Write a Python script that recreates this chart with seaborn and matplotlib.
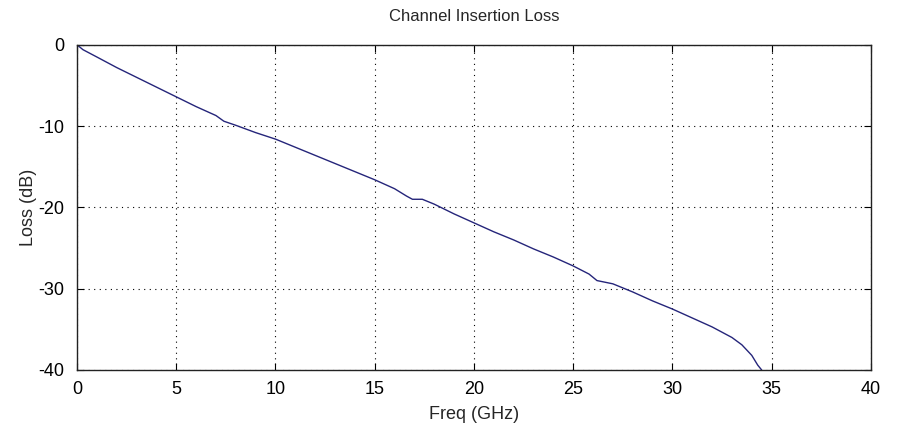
import matplotlib
matplotlib.use("Agg")
import matplotlib.pyplot as plt
import seaborn as sns
import pandas as pd

freq_ghz = [0, 0.3, 1, 2, 3, 4, 5, 6, 7, 7.4, 8, 9, 10, 11, 12, 13, 14, 15, 16,
            16.6, 16.9, 17.4, 18, 19, 20, 21, 22, 23, 24, 25, 25.8, 26.2, 27, 28,
            29, 30, 31, 32, 33, 33.5, 34, 34.3, 34.5]
loss_db = [0, -0.6, -1.5, -2.8, -4.0, -5.2, -6.4, -7.6, -8.7, -9.4, -9.9, -10.8,
           -11.6, -12.6, -13.6, -14.6, -15.6, -16.6, -17.7, -18.6, -19.0, -19.0,
           -19.6, -20.8, -21.9, -23.0, -24.0, -25.1, -26.1, -27.2, -28.2, -29.0,
           -29.4, -30.4, -31.5, -32.5, -33.6, -34.7, -36.0, -36.9, -38.2, -39.4, -40.0]
x_ticks = [0, 5, 10, 15, 20, 25, 30, 35, 40]
y_ticks = [0, -10, -20, -30, -40]

df = pd.DataFrame({"freq": freq_ghz, "loss": loss_db})

sns.set_style("white")
plt.rcParams["font.family"] = ["Liberation Sans", "DejaVu Sans"]
plt.rcParams["axes.unicode_minus"] = False

fig = plt.figure(figsize=(9, 4.33), dpi=100)
ax = fig.add_axes([0.0856, 0.1455, 0.882, 0.751])
sns.lineplot(data=df, x="freq", y="loss", ax=ax, color="#25257a", linewidth=1.0)

ax.set_xlim(0, 40)
ax.set_ylim(-40, 0)
ax.set_xticks(x_ticks)
ax.set_yticks(y_ticks)
ax.tick_params(direction="in", length=5, width=0.8, colors="black",
               labelsize=13, top=True, right=True, bottom=True, left=True)
ax.tick_params(axis="x", pad=8)
ax.tick_params(axis="y", pad=9)
ax.grid(True, linestyle=(0, (1, 4)), color="black", linewidth=0.8)
for s in ax.spines.values():
    s.set_color("#222222")
    s.set_linewidth(1.0)
    s.set_visible(True)

ax.set_title("Channel Insertion Loss", fontsize=12, pad=17)
ax.set_xlabel("Freq (GHz)", fontsize=13, labelpad=6)
ax.set_ylabel("Loss (dB)", fontsize=13, labelpad=1)

fig.savefig("out.png", dpi=100)
